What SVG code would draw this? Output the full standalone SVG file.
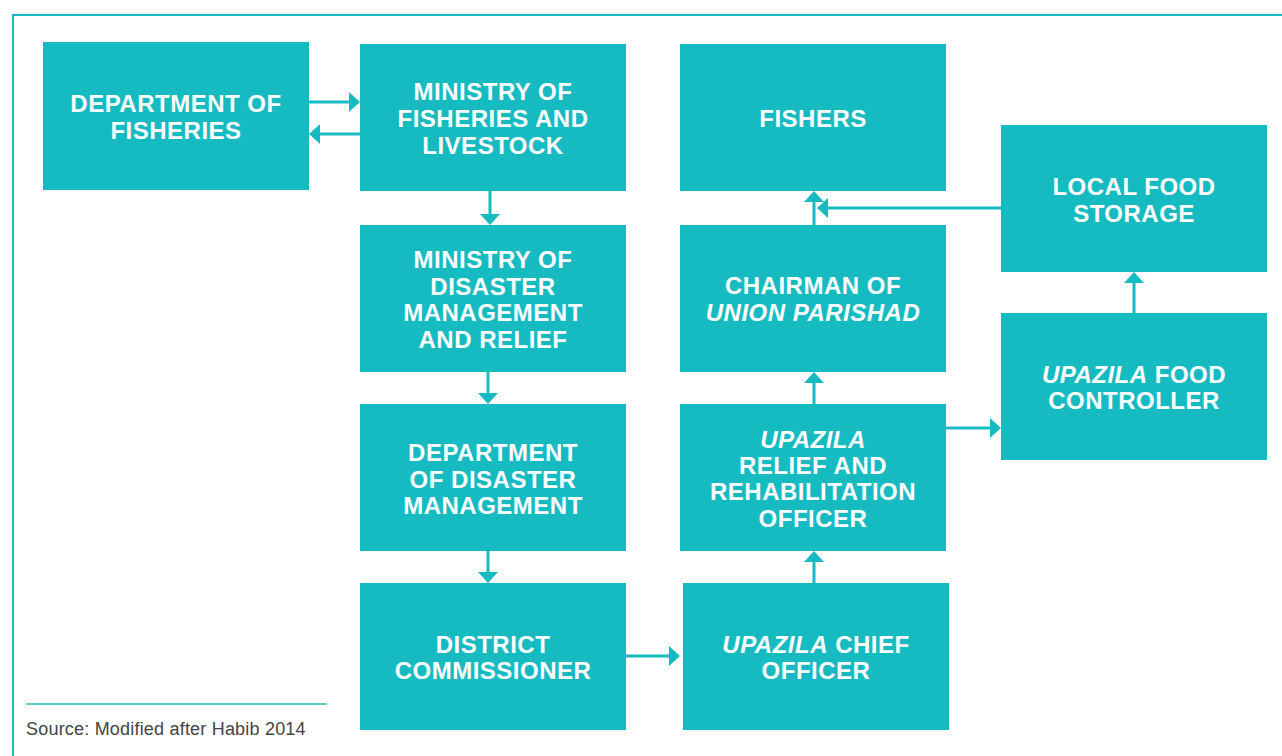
<svg xmlns="http://www.w3.org/2000/svg" width="1282" height="756" viewBox="0 0 1282 756">
  <style>
    .box { fill: #16BBC2; }
    .lbl { font-family: "Liberation Sans", Arial, sans-serif; font-weight: bold; font-size: 24px; letter-spacing: 0.5px; fill: #ffffff; text-anchor: middle; }
    .it { font-style: italic; }
    .conn { stroke: #16BBC2; stroke-width: 3; fill: none; marker-end: url(#head); }
    .frame { stroke: #16BBC2; stroke-width: 2; fill: none; }
    .src { font-family: "Liberation Sans", Arial, sans-serif; font-size: 18px; letter-spacing: 0.2px; fill: #444444; }
  </style>
  <defs>
    <marker id="head" markerUnits="userSpaceOnUse" markerWidth="11" markerHeight="20" refX="5" refY="10" orient="auto">
      <path d="M0,0 L11,10 L0,20 Z" fill="#16BBC2"/>
    </marker>
  </defs>

  <rect width="1282" height="756" fill="#ffffff"/>

  <!-- frame -->
  <path class="frame" d="M13,756 V15 H1282"/>

  <!-- source note -->
  <line x1="26" y1="704" x2="327" y2="704" stroke="#5CCDD2" stroke-width="2"/>
  <text class="src" x="26" y="735">Source: Modified after Habib 2014</text>

  <!-- connectors -->
  <g id="connectors">
    <line class="conn" x1="309" y1="102" x2="354" y2="102"/>
    <line class="conn" x1="360" y1="134" x2="315" y2="134"/>
    <line class="conn" x1="490" y1="191" x2="490" y2="219"/>
    <line class="conn" x1="488" y1="372" x2="488" y2="398"/>
    <line class="conn" x1="488" y1="551" x2="488" y2="577"/>
    <line class="conn" x1="626" y1="656" x2="674" y2="656"/>
    <line class="conn" x1="814" y1="583" x2="814" y2="557"/>
    <line class="conn" x1="814" y1="404" x2="814" y2="378"/>
    <line class="conn" x1="814" y1="225" x2="814" y2="197"/>
    <line class="conn" x1="1001" y1="208" x2="823" y2="208"/>
    <line class="conn" x1="946" y1="428" x2="995" y2="428"/>
    <line class="conn" x1="1134" y1="313" x2="1134" y2="278"/>
  </g>

  <!-- nodes -->
  <g id="dept-fisheries">
    <rect class="box" x="43" y="42" width="266" height="148"/>
    <text class="lbl" x="176" y="112">DEPARTMENT OF</text>
    <text class="lbl" x="176" y="139">FISHERIES</text>
  </g>

  <g id="ministry-fisheries">
    <rect class="box" x="360" y="44" width="266" height="147"/>
    <text class="lbl" x="493" y="100">MINISTRY OF</text>
    <text class="lbl" x="493" y="127">FISHERIES AND</text>
    <text class="lbl" x="493" y="154">LIVESTOCK</text>
  </g>

  <g id="ministry-disaster">
    <rect class="box" x="360" y="225" width="266" height="147"/>
    <text class="lbl" x="493" y="268">MINISTRY OF</text>
    <text class="lbl" x="493" y="295">DISASTER</text>
    <text class="lbl" x="493" y="321">MANAGEMENT</text>
    <text class="lbl" x="493" y="348">AND RELIEF</text>
  </g>

  <g id="dept-disaster">
    <rect class="box" x="360" y="404" width="266" height="147"/>
    <text class="lbl" x="493" y="461">DEPARTMENT</text>
    <text class="lbl" x="493" y="488">OF DISASTER</text>
    <text class="lbl" x="493" y="514">MANAGEMENT</text>
  </g>

  <g id="district-commissioner">
    <rect class="box" x="360" y="583" width="266" height="147"/>
    <text class="lbl" x="493" y="653">DISTRICT</text>
    <text class="lbl" x="493" y="679">COMMISSIONER</text>
  </g>

  <g id="fishers">
    <rect class="box" x="680" y="44" width="266" height="147"/>
    <text class="lbl" x="813" y="127">FISHERS</text>
  </g>

  <g id="chairman">
    <rect class="box" x="680" y="225" width="266" height="147"/>
    <text class="lbl" x="813" y="294">CHAIRMAN OF</text>
    <text class="lbl it" x="813" y="321">UNION PARISHAD</text>
  </g>

  <g id="relief-officer">
    <rect class="box" x="680" y="404" width="266" height="147"/>
    <text class="lbl it" x="813" y="448">UPAZILA</text>
    <text class="lbl" x="813" y="474">RELIEF AND</text>
    <text class="lbl" x="813" y="500">REHABILITATION</text>
    <text class="lbl" x="813" y="527">OFFICER</text>
  </g>

  <g id="chief-officer">
    <rect class="box" x="683" y="583" width="266" height="147"/>
    <text class="lbl" x="816" y="653"><tspan class="it">UPAZILA</tspan> CHIEF</text>
    <text class="lbl" x="816" y="679">OFFICER</text>
  </g>

  <g id="food-storage">
    <rect class="box" x="1001" y="125" width="266" height="147"/>
    <text class="lbl" x="1134" y="195">LOCAL FOOD</text>
    <text class="lbl" x="1134" y="222">STORAGE</text>
  </g>

  <g id="food-controller">
    <rect class="box" x="1001" y="313" width="266" height="147"/>
    <text class="lbl" x="1134" y="383"><tspan class="it">UPAZILA</tspan> FOOD</text>
    <text class="lbl" x="1134" y="409">CONTROLLER</text>
  </g>
</svg>
